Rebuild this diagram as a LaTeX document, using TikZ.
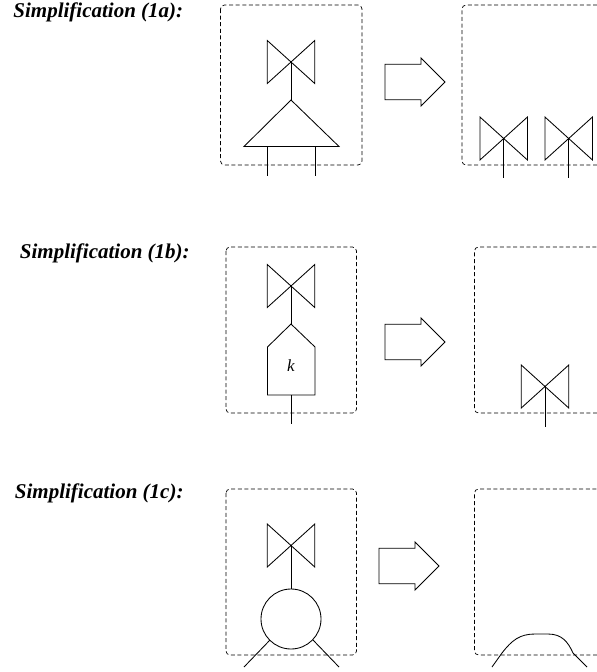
\documentclass[tikz,border=0pt]{standalone}
\usepackage{fontspec}
\setmainfont{Liberation Serif}
\tikzset{
	unitbox/.style={dash pattern=on 4pt off 2.6pt,rounded corners=4pt,line width=0.7pt},
	simplabel/.style={anchor=base west,inner sep=0pt,font=\fontsize{21}{24}\selectfont\bfseries\itshape},
}
% one valve: centre, half width 23.75, half height 21.5
\newcommand{\valve}[2]{%
	\draw (#1-23.75,#2-21.5) -- (#1+23.75,#2+21.5) -- (#1+23.75,#2-21.5) -- (#1-23.75,#2+21.5) -- cycle;
}
% hollow arrow: left end and middle height
\newcommand{\fatarrow}[2]{%
	\draw (#1,#2-17.75) -- (#1+36,#2-17.75) -- (#1+36,#2-24) -- (#1+60,#2)
		-- (#1+36,#2+24) -- (#1+36,#2+17.75) -- (#1,#2+17.75) -- cycle;
}
\begin{document}
\begin{tikzpicture}[x=1pt,y=-1pt,line width=0.85pt]
\useasboundingbox (0,0) rectangle (597,672);
% 1a
\node[simplabel] (label1a) at (13,17) {Simplification (1a):};
\draw[unitbox] (220.5,5) rectangle (362,165);
\valve{291}{62}
\coordinate (top1a) at (291,62);
\coordinate (apex1a) at (291,100);
\draw (top1a) -- (apex1a);
\draw (apex1a) -- (339,146.5) -- (244,146.5) -- cycle;
\draw (267.5,146.5) -- (267.5,176)
	(315,146.5) -- (315,176);
\fatarrow{385}{82}
\draw[unitbox] (597,165) -- (462,165) -- (462,5) -- (597,5);
\valve{503.7}{138.5}
\valve{568.7}{138.5}
\draw (503.7,138.5) -- (503.7,178)
	(568.7,138.5) -- (568.7,178);
% 1b
\node[simplabel] (label1b) at (19.5,258) {Simplification (1b):};
\draw[unitbox] (226,247) rectangle (356.5,413);
\valve{291}{286}
\coordinate (top1b) at (291,286);
\coordinate (apex1b) at (291,324);
\draw (top1b) -- (apex1b);
\draw (apex1b) -- (315,347) -- (315,395) -- (267.5,395) -- (267.5,347) -- cycle;
\node[font=\fontsize{17}{19}\selectfont\itshape,anchor=base,inner sep=0pt] (k) at (291,371) {k};
\draw (291,395) -- (291,424);
\fatarrow{385}{342}
\draw[unitbox] (597,413) -- (474.5,413) -- (474.5,247) -- (597,247);
\valve{545}{386.5}
\draw (545,386.5) -- (545,427);
% 1c
\node[simplabel] (label1c) at (14.5,498) {Simplification (1c):};
\draw[unitbox] (226,489) rectangle (356.5,655);
\valve{291}{545.5}
\coordinate (top1c) at (291,545.5);
\coordinate (circ1c) at (291,589);
\draw (top1c) -- (circ1c);
\draw (291,619) circle (30);
\draw (270,640) -- (244,667)
	(313,640) -- (339,667);
\fatarrow{379}{566}
\draw[unitbox] (597,655) -- (474.5,655) -- (474.5,489) -- (597,489);
\draw (492,667) -- (502,653) .. controls (512,640) and (520,634) .. (535,634)
	-- (548,634) .. controls (562,634) and (568,642) .. (573,653) -- (587,667);
\end{tikzpicture}
\end{document}
